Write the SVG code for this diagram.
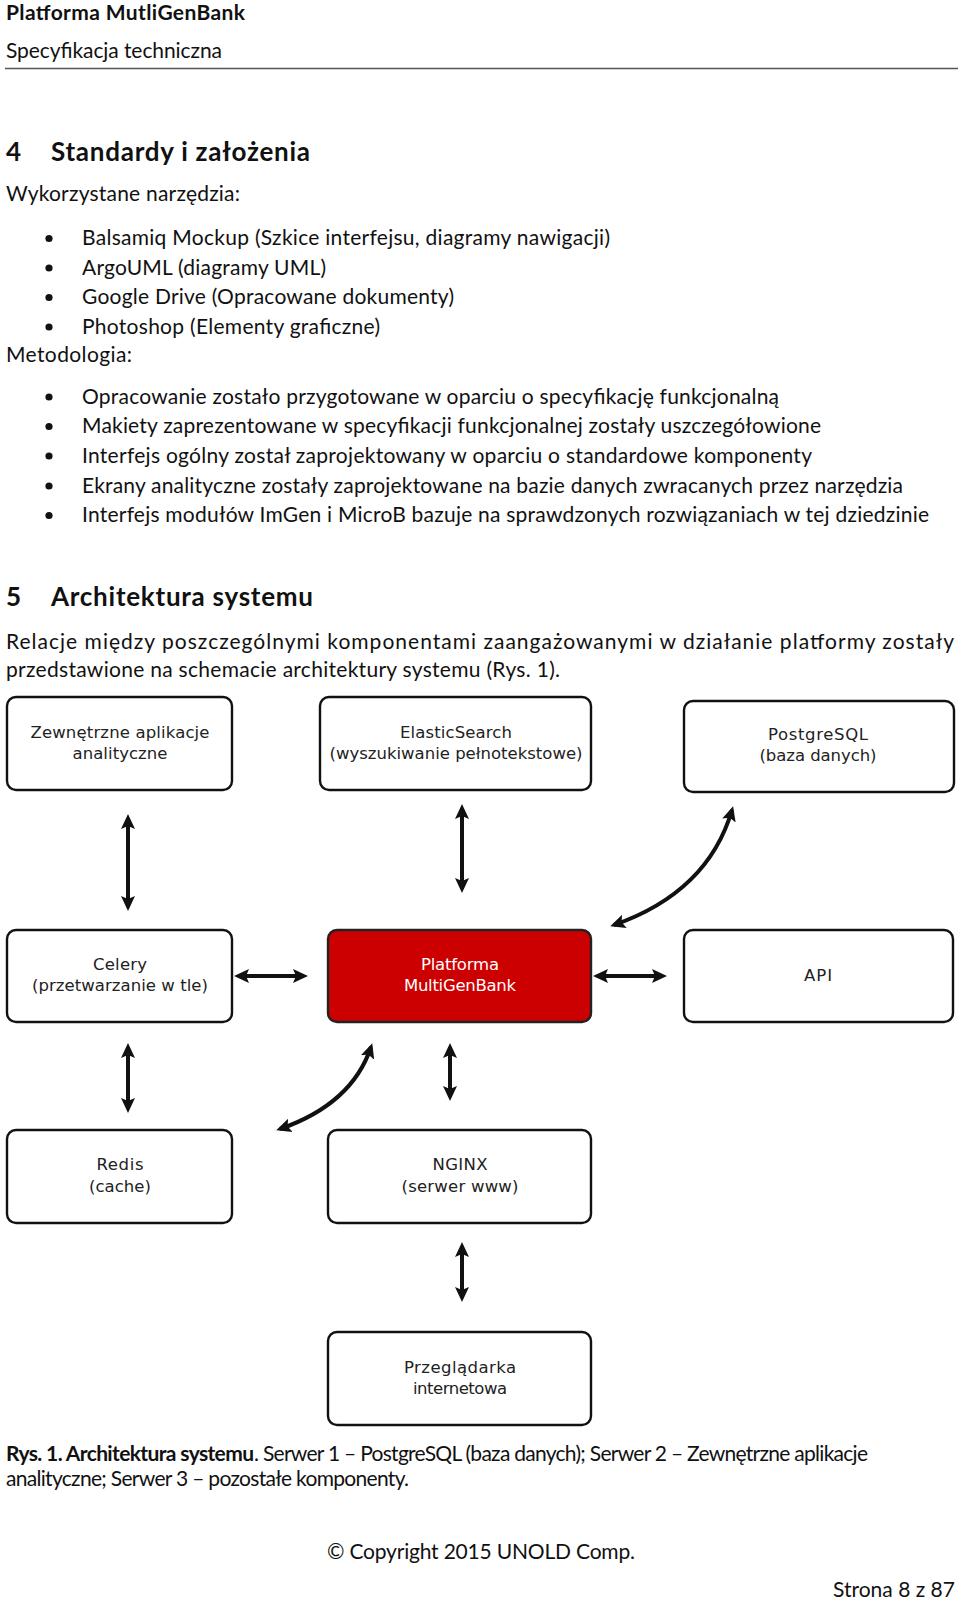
<svg xmlns="http://www.w3.org/2000/svg" width="960" height="1601" viewBox="0 0 960 1601">
<style>
.t{font-family:Lato,"Open Sans","Liberation Sans",sans-serif;font-size:21px;fill:#111}
.b{font-weight:bold}
.h{font-family:Lato,"Open Sans","Liberation Sans",sans-serif;font-size:26px;font-weight:bold;fill:#111}
.box{fill:#fff;stroke:#111;stroke-width:2.4}
.red{fill:#cc0000;stroke:#222;stroke-width:2.4}
.bt{font-family:"DejaVu Sans","Open Sans",sans-serif;font-size:16.5px;fill:#222;text-anchor:middle}
.wt{fill:#fff}
.c{fill:none;stroke:#111;stroke-width:4;stroke-linecap:butt;marker-start:url(#ah);marker-end:url(#ah)}
</style>
<defs>
<marker id="ah" markerUnits="userSpaceOnUse" markerWidth="16" markerHeight="16" viewBox="0 0 16 16" refX="11" refY="8" orient="auto-start-reverse">
<path d="M0,1 L15,8 L0,15 L3,8 z" fill="#111"/>
</marker>
</defs>
<rect width="960" height="1601" fill="#fff"/>
<g id="header">
<text class="t b" x="6" y="19.5" font-size="21" textLength="239">Platforma MutliGenBank</text>
<text class="t" x="6" y="58" textLength="216">Specyfikacja techniczna</text>
<line x1="5" y1="68.5" x2="958" y2="68.5" stroke="#555" stroke-width="1.5"/>
</g>
<g id="section4">
<text class="h" x="6" y="160.5">4</text>
<text class="h" x="51" y="160.5" textLength="259">Standardy i założenia</text>
<text class="t" x="6" y="201" textLength="234">Wykorzystane narzędzia:</text>
<circle cx="49" cy="238.5" r="3.6" fill="#111"/>
<circle cx="49" cy="268" r="3.6" fill="#111"/>
<circle cx="49" cy="297.5" r="3.6" fill="#111"/>
<circle cx="49" cy="327" r="3.6" fill="#111"/>
<text class="t" x="82" y="245" textLength="528">Balsamiq Mockup (Szkice interfejsu, diagramy nawigacji)</text>
<text class="t" x="82" y="274.5" textLength="244">ArgoUML (diagramy UML)</text>
<text class="t" x="82" y="304" textLength="372">Google Drive (Opracowane dokumenty)</text>
<text class="t" x="82" y="333.5" textLength="298">Photoshop (Elementy graficzne)</text>
<text class="t" x="6" y="362" textLength="126">Metodologia:</text>
<circle cx="49" cy="397" r="3.6" fill="#111"/>
<circle cx="49" cy="426.5" r="3.6" fill="#111"/>
<circle cx="49" cy="456" r="3.6" fill="#111"/>
<circle cx="49" cy="486" r="3.6" fill="#111"/>
<circle cx="49" cy="515.5" r="3.6" fill="#111"/>
<text class="t" x="82" y="403.5" textLength="697">Opracowanie zostało przygotowane w oparciu o specyfikację funkcjonalną</text>
<text class="t" x="82" y="433" textLength="739">Makiety zaprezentowane w specyfikacji funkcjonalnej zostały uszczegółowione</text>
<text class="t" x="82" y="462.5" textLength="730">Interfejs ogólny został zaprojektowany w oparciu o standardowe komponenty</text>
<text class="t" x="82" y="492.5" textLength="821">Ekrany analityczne zostały zaprojektowane na bazie danych zwracanych przez narzędzia</text>
<text class="t" x="82" y="522" textLength="847">Interfejs modułów ImGen i MicroB bazuje na sprawdzonych rozwiązaniach w tej dziedzinie</text>
</g>
<g id="section5">
<text class="h" x="6" y="606">5</text>
<text class="h" x="51" y="606" textLength="262">Architektura systemu</text>
<text class="t" x="6" y="649" textLength="948">Relacje między poszczególnymi komponentami zaangażowanymi w działanie platformy zostały</text>
<text class="t" x="6" y="676.5" textLength="554">przedstawione na schemacie architektury systemu (Rys. 1).</text>
</g>
<g id="connectors">
<line class="c" x1="128" y1="818" x2="128" y2="907"/>
<line class="c" x1="462" y1="808" x2="462" y2="889"/>
<path class="c" d="M732,810 Q708,892 614,925"/>
<line class="c" x1="238" y1="976" x2="304" y2="976"/>
<line class="c" x1="597" y1="976" x2="663" y2="976"/>
<line class="c" x1="128" y1="1047" x2="128" y2="1109"/>
<path class="c" d="M371,1047 Q352,1104 280,1129"/>
<line class="c" x1="450" y1="1047" x2="450" y2="1097"/>
<line class="c" x1="462" y1="1246" x2="462" y2="1298"/>
</g>
<g id="n-zewnetrzne">
<rect class="box" x="7" y="697" width="225" height="93" rx="9"/>
<text class="bt" x="120" y="738" textLength="179">Zewnętrzne aplikacje</text>
<text class="bt" x="120" y="759" textLength="95">analityczne</text>
</g>
<g id="n-elastic">
<rect class="box" x="320" y="697" width="271" height="93" rx="9"/>
<text class="bt" x="456" y="738" textLength="112">ElasticSearch</text>
<text class="bt" x="456" y="759" textLength="253">(wyszukiwanie pełnotekstowe)</text>
</g>
<g id="n-postgres">
<rect class="box" x="684" y="701" width="270" height="91" rx="9"/>
<text class="bt" x="818" y="740" textLength="100">PostgreSQL</text>
<text class="bt" x="818" y="761" textLength="117">(baza danych)</text>
</g>
<g id="n-celery">
<rect class="box" x="7" y="930" width="225" height="92" rx="9"/>
<text class="bt" x="120" y="970" textLength="54">Celery</text>
<text class="bt" x="120" y="991" textLength="176">(przetwarzanie w tle)</text>
</g>
<g id="n-platforma">
<rect class="red" x="328" y="930" width="263" height="92" rx="9"/>
<text class="bt wt" x="460" y="970" textLength="78">Platforma</text>
<text class="bt wt" x="460" y="991" textLength="112">MultiGenBank</text>
</g>
<g id="n-api">
<rect class="box" x="684" y="930" width="269" height="92" rx="9"/>
<text class="bt" x="818" y="981" textLength="28">API</text>
</g>
<g id="n-redis">
<rect class="box" x="7" y="1130" width="225" height="93" rx="9"/>
<text class="bt" x="120" y="1170" textLength="47">Redis</text>
<text class="bt" x="120" y="1192" textLength="62">(cache)</text>
</g>
<g id="n-nginx">
<rect class="box" x="328" y="1130" width="263" height="93" rx="9"/>
<text class="bt" x="460" y="1170" textLength="55">NGINX</text>
<text class="bt" x="460" y="1192" textLength="117">(serwer www)</text>
</g>
<g id="n-przegladarka">
<rect class="box" x="328" y="1332" width="263" height="93" rx="9"/>
<text class="bt" x="460" y="1373" textLength="112">Przeglądarka</text>
<text class="bt" x="460" y="1394" textLength="94">internetowa</text>
</g>
<g id="caption">
<text class="t b" x="6" y="1460.5" font-size="20" textLength="248">Rys. 1. Architektura systemu</text>
<text class="t" x="254" y="1460.5" font-size="20" textLength="614">. Serwer 1 – PostgreSQL (baza danych); Serwer 2 – Zewnętrzne aplikacje</text>
<text class="t" x="6" y="1486" font-size="20" textLength="403">analityczne; Serwer 3 – pozostałe komponenty.</text>
</g>
<g id="footer">
<text class="t" x="327" y="1558.5" textLength="308">© Copyright 2015 UNOLD Comp.</text>
<text class="t" x="833" y="1597" textLength="122">Strona 8 z 87</text>
</g>
</svg>
